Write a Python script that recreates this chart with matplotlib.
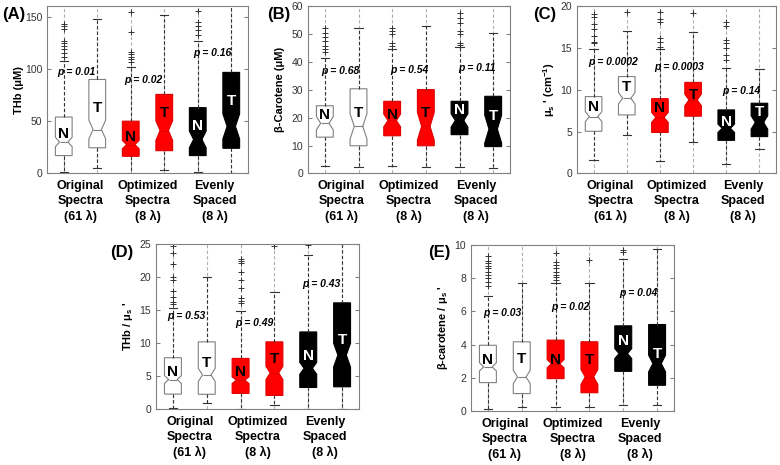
"""Notched box plots of THb, beta-carotene, mu_s' and ratios for N/T tissue,
comparing the original 61-wavelength spectra against two 8-wavelength sets."""

import matplotlib
matplotlib.use('Agg')
import matplotlib.pyplot as plt

plt.rcParams['font.family'] = ['Liberation Sans', 'DejaVu Sans']
plt.rcParams['mathtext.fontset'] = 'custom'
plt.rcParams['mathtext.rm'] = 'Liberation Sans'
plt.rcParams['mathtext.it'] = 'Liberation Sans:italic'
plt.rcParams['mathtext.bf'] = 'Liberation Sans:bold'

# ── Data ─────────────────────────────────────────────────────────────────────
groups   = ['Original\nSpectra\n(61 λ)', 'Optimized\nSpectra\n(8 λ)',
            'Evenly\nSpaced\n(8 λ)']
box_tags = ['N', 'T', 'N', 'T', 'N', 'T']

# one row per box: whisker low, q1, median, q3, whisker high, notch half-height
thb_stats = [[1.5, 17.0, 30.0, 54.0, 108.0, 4.5],
             [5.0, 24.5, 42.0, 90.0, 148.0, 9.0],
             [0.5, 16.3, 27.5, 50.0, 102.0, 4.0],
             [3.0, 21.7, 41.0, 75.7, 152.0, 9.5],
             [0.8, 17.0, 32.5, 63.0, 127.0, 8.0],
             [0.3, 24.0, 45.0, 96.8, 170.0, 12.0]]
thb_fliers = [[143, 141, 138, 127, 125, 122, 119, 115, 112], [],
              [155, 136, 116.5, 114, 112, 109.5, 107], [],
              [156, 145, 141, 137, 133], []]
thb_p = ['0.01', '0.02', '0.16']

bcar_stats = [[2.8, 13.0, 18.0, 24.3, 41.6, 2.4],
              [2.4, 9.9, 16.9, 30.4, 52.2, 4.5],
              [2.6, 13.5, 19.0, 25.9, 44.6, 2.3],
              [2.2, 9.9, 16.9, 30.1, 53.0, 5.0],
              [2.4, 13.9, 19.0, 25.9, 45.3, 2.4],
              [1.8, 9.6, 15.9, 27.7, 50.5, 5.0]]
bcar_fliers = [[52.4, 50.6, 49.2, 47.6, 45.8, 44.6, 43.6], [],
               [52.4, 51.2, 50.0, 47.0, 45.8], [],
               [57.8, 56.0, 54.0, 51.2, 50.0, 47.0, 46.0], []]
bcar_p = ['0.68', '0.54', '0.11']

mus_stats = [[1.6, 5.04, 6.8, 9.2, 14.9, 0.6],
             [4.56, 7.0, 9.0, 11.6, 17.1, 0.7],
             [1.45, 4.9, 6.7, 8.95, 14.9, 0.6],
             [3.8, 6.85, 8.8, 10.9, 16.9, 0.7],
             [1.13, 3.95, 5.4, 7.6, 12.6, 0.5],
             [2.86, 4.4, 6.1, 8.4, 12.5, 0.8]]
mus_fliers = [[19.1, 18.7, 17.9, 17.3, 16.5, 15.8, 15.6], [19.4],
              [19.3, 18.5, 18.1, 16.25, 15.8, 15.2], [19.2],
              [18.1, 17.7, 16.0, 15.6, 15.0, 14.2, 13.6], []]
mus_p = ['0.0002', '0.0003', '0.14']

thb_mus_stats = [[0.25, 2.3, 4.5, 7.8, 15.3, 0.6],
                 [1.0, 2.27, 5.2, 10.2, 20.0, 1.0],
                 [0.05, 2.4, 4.4, 7.7, 14.8, 0.5],
                 [0.65, 2.1, 5.5, 10.2, 17.8, 1.0],
                 [0.05, 3.3, 6.2, 11.7, 23.4, 0.9],
                 [0.05, 3.4, 8.2, 16.1, 26.0, 1.8]]
thb_mus_fliers = [[24.7, 23.6, 21.9, 20.0, 19.5, 17.9, 17.0, 16.3, 15.9], [],
                  [22.8, 22.5, 22.1, 20.7, 19.5, 18.4, 16.8, 16.4, 16.1],
                  [24.7], [24.9], []]
thb_mus_p = ['0.53', '0.49', '0.43']

bcar_mus_stats = [[0.14, 1.71, 2.66, 3.96, 6.92, 0.25],
                  [0.24, 1.05, 2.05, 4.17, 7.73, 0.4],
                  [0.24, 1.95, 2.85, 4.27, 7.69, 0.25],
                  [0.24, 1.1, 2.05, 4.17, 7.69, 0.45],
                  [0.38, 2.39, 3.46, 5.13, 9.13, 0.3],
                  [0.38, 1.55, 2.86, 5.21, 9.74, 0.5]]
bcar_mus_fliers = [[9.36, 9.03, 8.9, 8.75, 8.6, 8.4, 8.2, 7.99, 7.8, 7.55], [],
                   [9.5, 9.0, 8.8, 8.6, 8.4, 8.2, 8.1, 7.9], [9.1],
                   [9.7, 9.6], []]
bcar_mus_p = ['0.03', '0.02', '0.04']

# ── Styling ──────────────────────────────────────────────────────────────────
FACE = ['white', 'white', '#ff0000', '#ff0000', 'black', 'black']
EDGE = ['#808080', '#808080', '#e00000', '#e00000', 'black', 'black']
TAGC = ['black', 'black', 'black', 'black', 'white', 'white']
DASH = (0, (3, 2))
W, H = 780, 465
MUS = r"$\mathbf{\mu_s}$ '"


def px_rect(left, right, top, bottom):
    return [left / W, 1 - bottom / H, (right - left) / W, (bottom - top) / H]


def draw_panel(fig, rect, stats, fliers, pvals, ylabel, ylim, yticks,
               tag_y, p_xy, letter, letter_xy):
    ax = fig.add_axes(px_rect(*rect))
    pos = list(range(1, 7))
    bstats = [dict(whislo=lo, q1=q1, med=med, q3=q3, whishi=hi,
                   cilo=med - nh, cihi=med + nh, fliers=fl)
              for (lo, q1, med, q3, hi, nh), fl in zip(stats, fliers)]
    art = ax.bxp(bstats, positions=pos, widths=0.5, shownotches=True,
                 patch_artist=True,
                 whiskerprops=dict(color='#333333', lw=0.8, linestyle=DASH),
                 capprops=dict(color='#333333', lw=0.8),
                 flierprops=dict(marker='+', markeredgecolor='#333333',
                                 markersize=4, markeredgewidth=0.7),
                 medianprops=dict(lw=0.8))
    for i, b in enumerate(art['boxes']):
        b.set_facecolor(FACE[i])
        b.set_edgecolor(EDGE[i])
        b.set_linewidth(0.8)
        art['medians'][i].set_color(EDGE[i])
        ax.text(pos[i], tag_y[i], box_tags[i], ha='center', va='center',
                fontsize=11, fontweight='bold', color=TAGC[i], zorder=5)

    for (px, py), p in zip(p_xy, pvals):
        ax.text(px, py, f'p = {p}', ha='left', va='center', fontsize=7.5,
                fontweight='bold', style='italic', zorder=5)

    ax.set_xlim(0.5, 6.5)
    ax.set_ylim(*ylim)
    ax.set_yticks(yticks)
    ax.set_xticks([1.5, 3.5, 5.5])
    ax.set_xticklabels(groups, fontsize=9, fontweight='bold', linespacing=1.3)
    ax.set_xticks(pos, minor=True)
    ax.grid(True, which='minor', axis='x', linestyle=DASH, color='#b0b0b0',
            lw=0.8)
    ax.set_axisbelow(True)
    ax.tick_params(axis='x', which='both', length=0, pad=5, colors='black')
    ax.tick_params(axis='y', direction='in', length=3, right=True,
                   labelsize=7.5, labelcolor='#333333', color='#808080')
    for s in ax.spines.values():
        s.set_color('#808080')
        s.set_linewidth(0.8)

    ax.set_ylabel(ylabel, fontsize=8, fontweight='bold', va='center')
    ax.yaxis.set_label_coords(-0.14, 0.5)
    fig.text(letter_xy[0] / W, 1 - letter_xy[1] / H, letter, fontsize=12,
             fontweight='bold', ha='left', va='center')
    return ax


fig = plt.figure(figsize=(7.8, 4.65), dpi=100)

draw_panel(fig, (47, 248, 6.5, 173.3), thb_stats, thb_fliers, thb_p,
           'THb (μM)', (0, 160), [0, 50, 100, 150],
           [38, 62.5, 35, 57.5, 45, 69.6],
           [(0.82, 97.4), (2.82, 89.4), (4.87, 115)], '(A)', (2, 14))

draw_panel(fig, (308, 510, 6.5, 173.3), bcar_stats, bcar_fliers, bcar_p,
           'β-Carotene (μM)', (0, 60), range(0, 61, 10),
           [21.1, 21.7, 21.1, 21.7, 22.9, 20.5],
           [(0.88, 36.7), (2.93, 37.3), (4.97, 38)], '(B)', (267, 15))

draw_panel(fig, (577, 776, 6.5, 173.3), mus_stats, mus_fliers, mus_p,
           MUS + r" (cm$^{\mathbf{-1}}$)", (0, 20), range(0, 21, 5),
           [8.0, 10.3, 7.8, 9.4, 6.2, 7.4],
           [(0.85, 13.3), (2.82, 12.7), (4.87, 9.9)], '(C)', (533, 15))

draw_panel(fig, (156, 359, 244, 409.3), thb_mus_stats, thb_mus_fliers,
           thb_mus_p, "THb / " + MUS, (0, 25), range(0, 26, 5),
           [5.7, 7.05, 5.7, 7.55, 8.06, 10.5],
           [(0.82, 14.1), (2.83, 13.1), (4.82, 19.0)], '(D)', (110, 252))

draw_panel(fig, (471, 674, 245, 411), bcar_mus_stats, bcar_mus_fliers,
           bcar_mus_p, "β-carotene / " + MUS, (0, 10),
           range(0, 11, 2), [3.06, 3.16, 3.1, 3.06, 4.2, 3.46],
           [(0.85, 5.9), (2.88, 6.28), (4.89, 7.08)], '(E)', (428, 252))

fig.savefig('out.png', dpi=100)
print('Saved out.png')
